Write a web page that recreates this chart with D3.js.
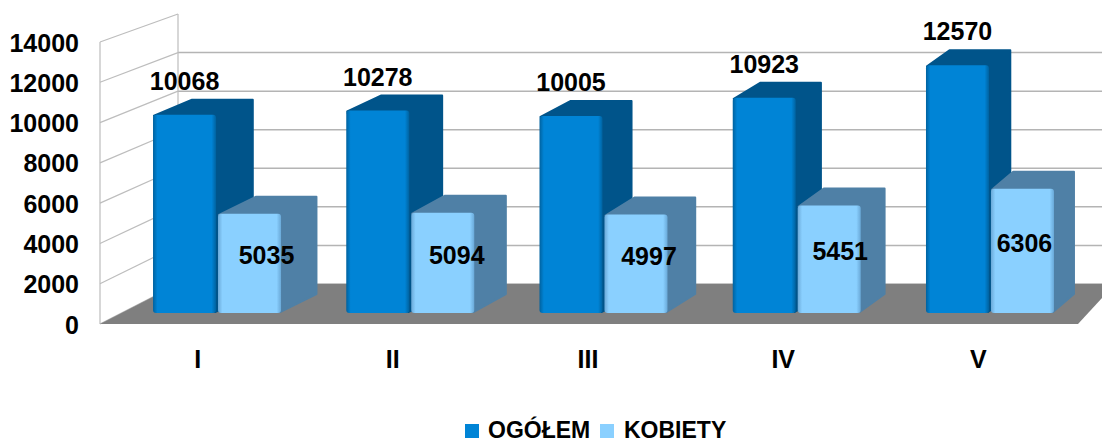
<!DOCTYPE html>
<meta charset="utf-8">
<style>

body {
  margin: 0;
  background: #fff;
}

text {
  font-family: "Liberation Sans", Arial, sans-serif;
  font-weight: bold;
  fill: #000;
}

.axis path,
.axis line {
  display: none;
}

.grid {
  stroke: #b4b4b4;
  stroke-width: 1.5px;
  fill: none;
}

.wall {
  stroke: #bdbdbd;
  stroke-width: 1.2px;
  fill: none;
}

.label {
  font-size: 25px;
  text-anchor: middle;
}

.legend {
  font-size: 23px;
}

</style>
<svg width="1102" height="439"></svg>
<script src="https://d3js.org/d3.v7.min.js"></script>
<script>

var categories = ["I", "II", "III", "IV", "V"];
var seriesNames = ["OGÓŁEM", "KOBIETY"];
var ogolem = [10068, 10278, 10005, 10923, 12570];
var kobiety = [5035, 5094, 4997, 5451, 6306];
var yTicks = [0, 2000, 4000, 6000, 8000, 10000, 12000, 14000];

// label nudges from the middle of the light bar's front face
var lightLabelShift = [17, 14, 13, 11, 2];

var svg = d3.select("svg");
var defs = svg.append("defs");

// the 3d box: front plane of the bars, back wall and front edge of the side wall
var barBase = 313;
var y = d3.scaleLinear().domain([0, 14000]).range([barBase, barBase - 14000 * 0.0197]);
var yFront = d3.scaleLinear().domain([0, 14000]).range([324, 42]);
var yBack = d3.scaleLinear().domain([0, 14000]).range([284, 14]);
var wallFront = 100, wallBack = 178, floorRight = 1078, floorRightBack = 1115;

var x0 = d3.scaleBand().domain(categories)
    .range([120.4, 1086.6])
    .paddingInner(0.3376)
    .paddingOuter(0.1688);
var x1 = d3.scaleBand().domain(seriesNames)
    .range([0, x0.bandwidth()])
    .paddingInner(0.03);
var xCat = d3.scaleBand().domain(categories).range([wallFront, floorRight - 2]);

// bars get less depth the further right they stand
var depthX = d3.scaleLinear().domain([153, 1053]).range([39, 21]);

var colors = {
  "OGÓŁEM": { front: "#0084d6", edge: "#00629f", side: "#00548a", depthY: 16 },
  "KOBIETY": { front: "#8ad0ff", edge: "#6aa9d8", side: "#4f80a6", depthY: 18 }
};

seriesNames.forEach(function(name, i) {
  var g = defs.append("linearGradient").attr("id", "front" + i);
  [[0, "edge"], [0.07, "front"], [0.93, "front"], [1, "edge"]].forEach(function(s) {
    g.append("stop").attr("offset", s[0]).attr("stop-color", colors[name][s[1]]);
  });
});

// back wall
svg.append("g").selectAll("line")
    .data(yTicks.filter(function(d) { return d < 14000; }))
    .enter().append("line")
      .attr("class", "grid")
      .attr("x1", wallBack).attr("x2", 1102)
      .attr("y1", function(d) { return yBack(d); })
      .attr("y2", function(d) { return yBack(d); });

// side wall
svg.append("g").selectAll("line")
    .data(yTicks)
    .enter().append("line")
      .attr("class", "wall")
      .attr("x1", wallFront).attr("x2", wallBack)
      .attr("y1", function(d) { return yFront(d); })
      .attr("y2", function(d) { return yBack(d); });

svg.append("line").attr("class", "wall")
    .attr("x1", wallFront).attr("x2", wallFront)
    .attr("y1", yFront(14000)).attr("y2", yFront(0));
svg.append("line").attr("class", "wall")
    .attr("x1", wallBack).attr("x2", wallBack)
    .attr("y1", yBack(14000)).attr("y2", yBack(0));

// floor
svg.append("polygon")
    .attr("fill", "#7f7f7f")
    .attr("points", [
      [wallFront, yFront(0)], [floorRight, yFront(0)],
      [floorRightBack, yBack(0)], [wallBack, yBack(0)]
    ].join(" "));

function drawBar(parent, name, cat, value) {
  var c = colors[name],
      l = x0(cat) + x1(name),
      r = l + x1.bandwidth(),
      t = y(value),
      b = y(0),
      dxL = depthX(l),
      dxR = depthX(r),
      dy = c.depthY;

  var g = parent.append("g");

  g.append("polygon")
      .attr("fill", c.side).attr("stroke", c.side)
      .attr("stroke-width", 2).attr("stroke-linejoin", "round")
      .attr("points", [[l + 1, t + 1], [l + dxL, t - dy + 1], [r + dxR - 1, t - dy + 1], [r + dxR - 1, b - dy - 1], [r - 1, b - 1]].join(" "));

  g.append("rect")
      .attr("x", l).attr("y", t)
      .attr("width", x1.bandwidth()).attr("height", b - t)
      .attr("rx", 3)
      .attr("fill", "url(#front" + seriesNames.indexOf(name) + ")");
}

var bars = svg.append("g");
categories.forEach(function(cat, i) {
  drawBar(bars, seriesNames[0], cat, ogolem[i]);
  drawBar(bars, seriesNames[1], cat, kobiety[i]);
});

// value labels
svg.append("g").selectAll("text")
    .data(ogolem)
    .enter().append("text")
      .attr("class", "label")
      .attr("x", function(d, i) { return x0(categories[i]) + x1(seriesNames[0]) + x1.bandwidth() / 2; })
      .attr("y", function(d) { return y(d) - 25; })
      .text(function(d) { return d; });

svg.append("g").selectAll("text")
    .data(kobiety)
    .enter().append("text")
      .attr("class", "label")
      .attr("x", function(d, i) { return x0(categories[i]) + x1(seriesNames[1]) + x1.bandwidth() / 2 + lightLabelShift[i]; })
      .attr("y", function(d) { return (y(d) + y(0)) / 2 + 1; })
      .text(function(d) { return d; });

// axes
svg.append("g")
    .attr("class", "axis")
    .attr("transform", "translate(79,1)")
    .call(d3.axisLeft(yFront).tickValues(yTicks).tickSize(0).tickPadding(0).tickFormat(d3.format("d")));

svg.append("g")
    .attr("class", "axis")
    .attr("transform", "translate(0,350)")
    .call(d3.axisBottom(xCat).tickSize(0).tickPadding(0));

svg.selectAll(".axis text").style("font-size", "25px");

// legend
var legendX = [465, 600];
var legendTextX = [488, 624];
seriesNames.forEach(function(name, i) {
  svg.append("rect")
      .attr("x", legendX[i]).attr("y", 424)
      .attr("width", 14).attr("height", 14)
      .attr("fill", colors[name].front);
  svg.append("text")
      .attr("class", "legend")
      .attr("x", legendTextX[i]).attr("y", 438)
      .text(name);
});

</script>
